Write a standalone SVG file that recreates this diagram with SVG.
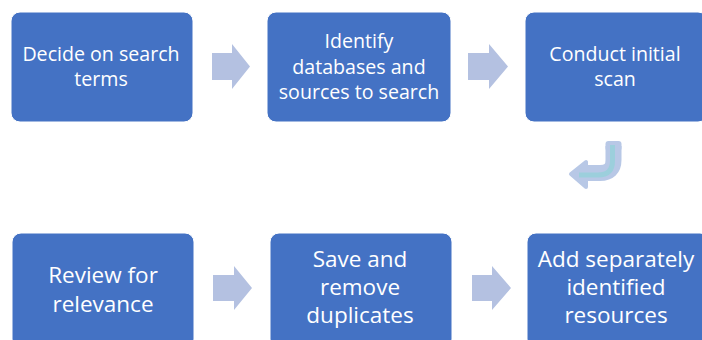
<svg xmlns="http://www.w3.org/2000/svg" width="702" height="340" viewBox="0 0 702 340">
  <style>
    .box { fill: #4472c4; stroke: #ffffff; stroke-width: 1; }
    .lbl { fill: #ffffff; font-family: "Open Sans", "Noto Sans", sans-serif; text-anchor: middle; }
    .top { font-size: 19.6px; }
    .bot { font-size: 22.5px; }
    .step { fill: #b4c1e1; }
  </style>
  <rect width="702" height="340" fill="#ffffff"/>

  <g id="connectors">
    <polygon class="step" points="212,53 232,53 232,44 250,66.5 232,89 232,80 212,80"/>
    <polygon class="step" points="468,53 489,53 489,44 508,66.5 489,89 489,80 468,80"/>
    <polygon class="step" points="213,275 234,275 234,266 252,288 234,310 234,301 213,301"/>
    <polygon class="step" points="472,275 492,275 492,266 511,288 492,310 492,301 472,301"/>
    <!-- U-turn from the top row down to the bottom row -->
    <g id="uturn">
      <path d="M613.5,146 V160 Q613.5,173 600,173 H584" fill="none" stroke="#b8c8e6" stroke-width="16" stroke-linejoin="round"/>
      <rect x="605.5" y="141" width="16" height="10" rx="3" fill="#b8c8e6"/>
      <polygon points="571,174 586,162 586,187" fill="#b8c8e6" stroke="#b8c8e6" stroke-width="4" stroke-linejoin="round"/>
      <path d="M612.5,145 V161 Q612.5,175 598,175 H579" fill="none" stroke="#9ccfdc" stroke-width="5"/>
    </g>
  </g>

  <g id="n1">
    <rect class="box" x="11" y="12" width="182" height="110" rx="9"/>
    <text class="lbl top" x="101" y="61">Decide on search</text>
    <text class="lbl top" x="101" y="86">terms</text>
  </g>
  <g id="n2">
    <rect class="box" x="267" y="12" width="184" height="110" rx="9"/>
    <text class="lbl top" x="359" y="48">Identify</text>
    <text class="lbl top" x="359" y="74">databases and</text>
    <text class="lbl top" x="359" y="99">sources to search</text>
  </g>
  <g id="n3">
    <rect class="box" x="525" y="12" width="182" height="110" rx="9"/>
    <text class="lbl top" x="615" y="61">Conduct initial</text>
    <text class="lbl top" x="615" y="86">scan</text>
  </g>
  <g id="n4">
    <rect class="box" x="12" y="233" width="182" height="115" rx="9"/>
    <text class="lbl bot" x="103" y="283">Review for</text>
    <text class="lbl bot" x="103" y="312">relevance</text>
  </g>
  <g id="n5">
    <rect class="box" x="270" y="233" width="182" height="115" rx="9"/>
    <text class="lbl bot" x="360" y="267">Save and</text>
    <text class="lbl bot" x="360" y="295">remove</text>
    <text class="lbl bot" x="360" y="323">duplicates</text>
  </g>
  <g id="n6">
    <rect class="box" x="527" y="233" width="182" height="115" rx="9"/>
    <text class="lbl bot" x="616" y="267">Add separately</text>
    <text class="lbl bot" x="616" y="295">identified</text>
    <text class="lbl bot" x="616" y="323">resources</text>
  </g>
</svg>
